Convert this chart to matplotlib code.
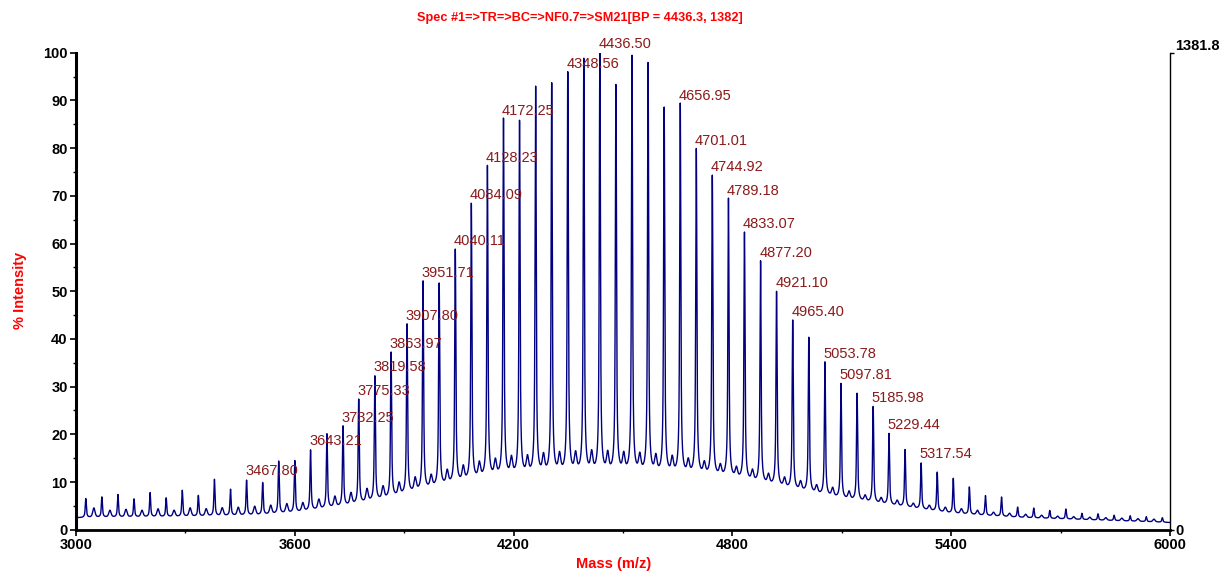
import numpy as np
import matplotlib
matplotlib.use("Agg")
import matplotlib.pyplot as plt
from matplotlib.ticker import MultipleLocator, FixedLocator

# ---------------- data ----------------
main_mz = [3026.9, 3071.0, 3115.0, 3159.1, 3203.2, 3247.3, 3291.4, 3335.5, 3379.6, 3423.7,
           3467.8, 3511.9, 3555.9, 3599.9, 3643.2, 3688.1, 3732.3, 3775.3, 3819.6, 3864.0,
           3907.8, 3951.7, 3995.9, 4040.1, 4084.1, 4128.2, 4172.3, 4216.3, 4260.4, 4304.5,
           4348.6, 4392.5, 4436.5, 4480.6, 4524.7, 4568.8, 4612.9, 4657.0, 4701.0, 4744.9,
           4789.2, 4833.1, 4877.2, 4921.1, 4965.4, 5009.6, 5053.8, 5097.8, 5141.9, 5186.0,
           5229.4, 5273.5, 5317.5, 5361.6, 5405.7, 5449.8, 5493.9, 5538.0, 5582.1, 5626.2,
           5670.3, 5714.4, 5758.5, 5802.6, 5846.7, 5890.8, 5934.9, 5979.0]
main_int = [6.5, 6.8, 7.3, 6.4, 7.7, 6.6, 8.2, 7.1, 10.5, 8.4,
            10.3, 9.8, 14.3, 14.4, 16.6, 20.0, 21.6, 27.2, 32.1, 37.0,
            42.9, 51.9, 51.5, 58.6, 68.2, 76.0, 85.9, 85.4, 92.7, 93.2,
            95.7, 98.3, 100.0, 93.0, 99.0, 97.5, 88.3, 89.0, 79.5, 74.1,
            69.2, 62.2, 56.1, 49.8, 43.8, 40.2, 35.0, 30.5, 28.5, 25.7,
            20.1, 16.7, 13.9, 12.0, 10.7, 8.9, 7.1, 6.8, 4.7, 4.5,
            4.0, 4.3, 3.4, 3.3, 3.0, 2.9, 2.7, 2.5]

minor_mz = [3049, 3093, 3137, 3181, 3225, 3269, 3313, 3357, 3401, 3445,
            3490, 3534, 3578, 3622, 3666, 3710, 3754, 3798, 3842, 3886,
            3930, 3974, 4018, 4062, 4106, 4150, 4194, 4238, 4282, 4326,
            4370, 4414, 4458, 4502, 4546, 4590, 4635, 4679, 4723, 4767,
            4811, 4855, 4899, 4943, 4987, 5031, 5075, 5120, 5164, 5208,
            5252, 5296, 5340, 5384, 5428, 5472, 5516, 5560, 5604, 5648,
            5692, 5736, 5780, 5824, 5868, 5912, 5956]
minor_int = [4.5, 4.0, 4.2, 4.0, 4.3, 4.0, 4.5, 4.3, 4.5, 4.6,
             4.8, 5.0, 5.3, 5.5, 6.2, 6.8, 7.5, 8.3, 8.8, 9.5,
             10.5, 11.0, 12.0, 12.8, 13.5, 14.0, 14.5, 14.6, 15.0, 15.2,
             15.3, 15.5, 15.4, 15.2, 15.0, 14.8, 14.5, 14.0, 13.5, 13.0,
             12.5, 12.0, 11.2, 10.5, 9.8, 9.0, 8.5, 7.8, 7.0, 6.5,
             6.0, 5.4, 5.0, 4.6, 4.3, 4.0, 3.6, 3.4, 3.2, 3.0,
             2.8, 2.7, 2.6, 2.5, 2.4, 2.3, 2.2]

base_mz = [3000, 3300, 3500, 3600, 3750, 3860, 4000, 4130, 4300, 4500,
           4700, 4800, 4900, 5000, 5100, 5200, 5300, 5400, 5500, 5600, 5800, 6000]
base_int = [2.5, 2.7, 3.0, 3.5, 5.0, 6.5, 9.0, 10.8, 11.6, 11.8,
            11.3, 10.6, 9.2, 7.8, 6.4, 5.4, 4.4, 3.4, 2.9, 2.5, 2.0, 1.5]

label_mz = [3467.80, 3643.21, 3732.25, 3775.33, 3819.58, 3863.97, 3907.80, 3951.71,
            4040.11, 4084.09, 4128.23, 4172.25, 4348.56, 4436.50, 4656.95, 4701.01,
            4744.92, 4789.18, 4833.07, 4877.20, 4921.10, 4965.40, 5053.78, 5097.81,
            5185.98, 5229.44, 5317.54]
label_int = [10.3, 16.6, 21.6, 27.2, 32.1, 37.0, 42.9, 51.9,
             58.6, 68.2, 76.0, 85.9, 95.7, 100.0, 89.0, 79.5,
             74.1, 69.2, 62.2, 56.1, 49.8, 43.8, 35.0, 30.5,
             25.7, 20.1, 13.9]

x_ticks = [3000, 3600, 4200, 4800, 5400, 6000]
y_ticks = [0, 10, 20, 30, 40, 50, 60, 70, 80, 90, 100]
right_max = 1381.8

title = "Spec #1=>TR=>BC=>NF0.7=>SM21[BP = 4436.3, 1382]"

# ---------------- build trace ----------------
mz = np.arange(3000, 6000.01, 0.25)
baseline = np.interp(mz, base_mz, base_int)


def shape(x, c, g=1.8, s=1.4, eta=0.55):
    d = x[:, None] - np.asarray(c)[None, :]
    lor = 1.0 / (1.0 + (d / g) ** 2)
    gau = np.exp(-0.5 * (d / s) ** 2)
    return eta * lor + (1 - eta) * gau


m_amp = np.clip(np.array(main_int) - np.interp(main_mz, base_mz, base_int), 0, None)
n_amp = np.clip(np.array(minor_int) - np.interp(minor_mz, base_mz, base_int), 0, None)
trace = (baseline + shape(mz, main_mz, g=2.2, s=1.3, eta=0.6) @ m_amp
         + shape(mz, minor_mz, g=4.0, s=3.0, eta=0.5) @ n_amp)

# ---------------- figure ----------------
fam = ['Liberation Sans', 'DejaVu Sans']
plt.rcParams['font.family'] = fam

fig = plt.figure(figsize=(12.25, 5.72), dpi=100)
ax = fig.add_axes([76 / 1225, 42.3 / 572, (1170 - 76) / 1225, (529.7 - 52.7) / 572])
ax.plot(mz, trace, color='#000080', lw=1.0)
ax.set_xlim(3000, 6000)
ax.set_ylim(0, 100)

for s in ['top', 'right']:
    ax.spines[s].set_visible(False)
ax.spines['left'].set_linewidth(2.2)
ax.spines['bottom'].set_linewidth(2.0)

ax.xaxis.set_major_locator(FixedLocator(x_ticks))
ax.xaxis.set_minor_locator(MultipleLocator(300))
ax.yaxis.set_major_locator(FixedLocator(y_ticks))
ax.yaxis.set_minor_locator(MultipleLocator(5))
ax.tick_params(axis='both', which='major', direction='out', length=4, width=1.2,
               labelsize=10.5, pad=2)
ax.tick_params(axis='both', which='minor', direction='out', length=2, width=1.0)
for t in ax.get_xticklabels() + ax.get_yticklabels():
    t.set_fontweight('bold')

ax2 = ax.twinx()
ax2.set_ylim(0, right_max)
for s in ['top', 'left', 'bottom']:
    ax2.spines[s].set_visible(False)
ax2.spines['right'].set_linewidth(1.0)
ax2.set_yticks([0, right_max])
ax2.set_yticklabels(['0', '1381.8'])
ax2.tick_params(axis='y', direction='out', length=3, width=1.0, labelsize=10.5, pad=1)
labs = ax2.get_yticklabels()
for t in labs:
    t.set_fontweight('bold')
labs[1].set_verticalalignment('bottom')

for m, h in zip(label_mz, label_int):
    ax.annotate(f"{m:.2f}", xy=(m, h), xytext=(-1, 1.5), textcoords='offset points',
                ha='left', va='bottom', color='#8b1a1a', fontsize=10.5,
                annotation_clip=False, clip_on=False)

fig.text(579.5 / 1225, 1 - 18 / 572, title, color='#ff0000', fontsize=9.2,
         fontweight='bold', ha='center', va='center')
fig.text(614 / 1225, 1 - 564 / 572, 'Mass (m/z)', color='#ff0000', fontsize=10.5,
         fontweight='bold', ha='center', va='center')
fig.text(20 / 1225, 1 - 290 / 572, '% Intensity', color='#ff0000', fontsize=10.5,
         fontweight='bold', ha='center', va='center', rotation=90)

fig.savefig('out.png', dpi=100)
